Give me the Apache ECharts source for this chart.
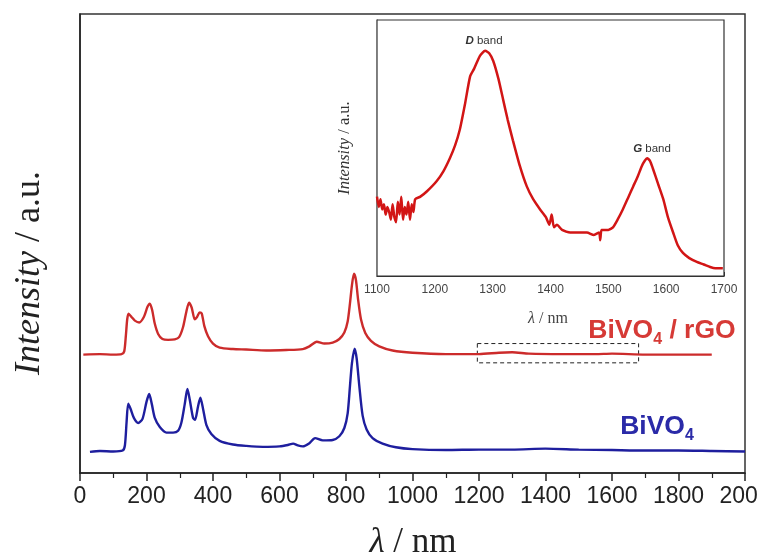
<!DOCTYPE html>
<html><head><meta charset="utf-8">
<script src="https://cdn.jsdelivr.net/npm/echarts@6/dist/echarts.min.js"></script>
<style>html,body{margin:0;padding:0;background:#fff}#c{width:757px;height:555px}</style>
</head><body><div id="c"></div>
<script>
// Main spectrum: BiVO4 / rGO (red, offset) [wavelength, intensity]
const redData = [[10,258],[60,259],[100,258],[125,259],[133,265],[138,300],[142,335],[146,347],[155,340],[165,332],[178,328],[192,340],[203,362],[210,369],[217,355],[225,325],[235,303],[248,292],[265,290],[285,291],[298,296],[310,318],[320,352],[328,371],[336,360],[345,335],[352,340],[360,350],[366,348],[374,320],[385,298],[400,282],[420,273],[460,270],[500,269],[560,267],[620,268],[670,270],[690,276],[712,286],[735,282],[760,284],[780,292],[795,306],[805,330],[812,370],[818,410],[824,434],[830,420],[836,380],[845,335],[858,305],[875,288],[900,276],[940,267],[1000,262],[1100,259],[1200,259],[1260,262],[1300,263],[1350,260],[1450,259],[1550,259],[1600,260],[1700,258],[1800,258],[1900,258]];
// Main spectrum: BiVO4 (blue)
const blueData = [[30,46],[60,48],[100,47],[128,49],[135,60],[140,110],[145,151],[152,140],[162,120],[175,109],[188,118],[200,155],[208,172],[216,150],[225,120],[240,100],[260,88],[280,88],[295,92],[305,110],[315,150],[323,183],[330,160],[340,120],[346,116],[355,145],[362,164],[370,140],[380,105],[395,85],[420,70],[460,62],[500,59],[550,57],[600,58],[625,61],[641,64],[655,60],[670,58],[690,65],[707,76],[730,71],[760,72],[780,80],[795,98],[805,130],[812,190],[818,240],[826,271],[832,250],[840,190],[850,125],[862,95],[880,76],[910,64],[950,56],[1000,52],[1100,50],[1200,51],[1300,51],[1400,53],[1500,51],[1600,50],[1700,49],[1800,49],[1900,48],[2000,47]];
// Inset: rGO D and G bands
const insetData = [[1100,31],[1103,27],[1106,30],[1109,26],[1112,28],[1115,24],[1118,27],[1121,25],[1124,22],[1127,28],[1130,23],[1133,21],[1136,29],[1139,24],[1142,31],[1145,22],[1148,27],[1151,24],[1154,29],[1157,22],[1160,28],[1163,25],[1166,30],[1175,31],[1186,33],[1203,37],[1215,41],[1226,46],[1235,51],[1243,57],[1252,67],[1261,78],[1268,81],[1278,86],[1287,88],[1294,87],[1301,84],[1310,77],[1318,69],[1326,61],[1335,53],[1347,43],[1359,35],[1370,30],[1382,26],[1392,23],[1398,20],[1402,24],[1406,19],[1411,20],[1420,18],[1434,17],[1450,17],[1463,17],[1475,16],[1484,17],[1486,14],[1488,18],[1491,18],[1500,18],[1508,19],[1516,22],[1525,26],[1535,31],[1543,35],[1551,39],[1558,43],[1563,45],[1567,46],[1572,45],[1577,42],[1586,36],[1595,30],[1603,23],[1612,17],[1620,12],[1629,9],[1640,7],[1653,5.5],[1665,4.5],[1676,3.5],[1685,3],[1698,3]];
// Zoom region marked on the main plot
const zoomBox = {x: [1195, 1680], y: [240, 282]};
const mainRange = {xMin: 0, xMax: 2000, xStep: 200, yMin: 0, yMax: 1000};
const insetRange = {xMin: 1100, xMax: 1700, xStep: 100, yMin: 0, yMax: 100};

const RED = '#cc2b2b', BLUE = '#1e1e9e', INSET_RED = '#d21515';
const plain = v => String(v);
const chart = echarts.init(document.getElementById('c'), null, {renderer: 'canvas'});
chart.setOption({
  animation: false,
  backgroundColor: '#fff',
  grid: [
    {left: 80, right: 12, top: 14, bottom: 82, outerBoundsMode: 'none', containLabel: false, show: true, borderColor: '#333', borderWidth: 1.5, backgroundColor: 'transparent'},
    {left: 377, right: 33, top: 20, height: 256, outerBoundsMode: 'none', containLabel: false, show: true, borderColor: '#333', borderWidth: 1.2, backgroundColor: '#fff', z: 5}
  ],
  xAxis: [
    {type: 'value', gridIndex: 0, min: mainRange.xMin, max: mainRange.xMax, interval: mainRange.xStep,
     axisLine: {lineStyle: {color: '#222', width: 1.5}}, splitLine: {show: false},
     axisTick: {inside: false, length: 8, lineStyle: {color: '#222', width: 1.5}},
     minorTick: {show: true, splitNumber: 2, length: 5, lineStyle: {color: '#222', width: 1.2}},
     axisLabel: {fontFamily: 'Liberation Sans', fontSize: 23, color: '#222', margin: 12, showMaxLabel: true, formatter: plain, hideOverlap: false}},
    {type: 'value', gridIndex: 1, min: insetRange.xMin, max: insetRange.xMax, interval: insetRange.xStep,
     axisLine: {lineStyle: {color: '#333', width: 1.2}}, splitLine: {show: false},
     axisTick: {inside: true, length: 4, lineStyle: {color: '#333'}},
     minorTick: {show: true, splitNumber: 2, length: 3, lineStyle: {color: '#333'}},
     axisLabel: {fontFamily: 'Liberation Sans', fontSize: 12, color: '#444', margin: 8, showMinLabel: true, showMaxLabel: true, formatter: plain, hideOverlap: false}}
  ],
  yAxis: [
    {type: 'value', gridIndex: 0, min: mainRange.yMin, max: mainRange.yMax,
     axisLine: {show: true, lineStyle: {color: '#222', width: 1.5}}, axisTick: {show: false},
     axisLabel: {show: false}, splitLine: {show: false}},
    {type: 'value', gridIndex: 1, min: insetRange.yMin, max: insetRange.yMax,
     axisLine: {show: true, lineStyle: {color: '#333', width: 1.2}}, axisTick: {show: false},
     axisLabel: {show: false}, splitLine: {show: false}}
  ],
  series: [
    {type: 'line', xAxisIndex: 0, yAxisIndex: 0, data: redData, showSymbol: false, smooth: 0.25,
     lineStyle: {color: RED, width: 2.4}, z: 2,
     markArea: {silent: true, itemStyle: {color: 'rgba(0,0,0,0)', borderColor: '#222', borderWidth: 1, borderType: [4, 3]},
       data: [[{coord: [zoomBox.x[0], zoomBox.y[1]]}, {coord: [zoomBox.x[1], zoomBox.y[0]]}]]}},
    {type: 'line', xAxisIndex: 0, yAxisIndex: 0, data: blueData, showSymbol: false, smooth: 0.25,
     lineStyle: {color: BLUE, width: 2.4}, z: 2},
    {type: 'line', xAxisIndex: 1, yAxisIndex: 1, data: insetData, showSymbol: false, smooth: 0.2,
     lineStyle: {color: INSET_RED, width: 2.5}, z: 10}
  ],
  graphic: [
    {type: 'text', x: 30, y: 273, rotation: Math.PI / 2,
     style: {text: '{i|Intensity}{n| / a.u.}', align: 'center', verticalAlign: 'middle',
       rich: {i: {fontFamily: 'Liberation Serif', fontSize: 36, fontStyle: 'italic', fill: '#222'},
              n: {fontFamily: 'Liberation Serif', fontSize: 36, fill: '#222'}}}},
    {type: 'text', x: 413, y: 543,
     style: {text: '{i|λ}{n| / nm}', align: 'center', verticalAlign: 'middle',
       rich: {i: {fontFamily: 'Liberation Serif', fontSize: 35, fontStyle: 'italic', fill: '#222'},
              n: {fontFamily: 'Liberation Serif', fontSize: 35, fill: '#222'}}}},
    {type: 'text', x: 662, y: 331, z: 20,
     style: {text: '{a|BiVO}{s|4}{a| / rGO}', align: 'center', verticalAlign: 'middle',
       rich: {a: {fontFamily: 'Liberation Sans', fontSize: 26.5, fontWeight: 'bold', fill: '#d63a36', lineHeight: 28, verticalAlign: 'top'},
              s: {fontFamily: 'Liberation Sans', fontSize: 16, fontWeight: 'bold', fill: '#d63a36', lineHeight: 28, padding: [15, 0, 0, 0], verticalAlign: 'top'}}}},
    {type: 'text', x: 657, y: 427, z: 20,
     style: {text: '{a|BiVO}{s|4}', align: 'center', verticalAlign: 'middle',
       rich: {a: {fontFamily: 'Liberation Sans', fontSize: 26.5, fontWeight: 'bold', fill: '#2a2aa8', lineHeight: 28, verticalAlign: 'top'},
              s: {fontFamily: 'Liberation Sans', fontSize: 16, fontWeight: 'bold', fill: '#2a2aa8', lineHeight: 28, padding: [15, 0, 0, 0], verticalAlign: 'top'}}}},
    {type: 'text', x: 345, y: 148, rotation: Math.PI / 2, z: 20,
     style: {text: '{i|Intensity}{n| / a.u.}', align: 'center', verticalAlign: 'middle',
       rich: {i: {fontFamily: 'Liberation Serif', fontSize: 16.5, fontStyle: 'italic', fill: '#333'},
              n: {fontFamily: 'Liberation Serif', fontSize: 16.5, fill: '#333'}}}},
    {type: 'text', x: 548, y: 319, z: 20,
     style: {text: '{i|λ}{n| / nm}', align: 'center', verticalAlign: 'middle',
       rich: {i: {fontFamily: 'Liberation Serif', fontSize: 16, fontStyle: 'italic', fill: '#444'},
              n: {fontFamily: 'Liberation Serif', fontSize: 16, fill: '#444'}}}},
    {type: 'text', x: 484, y: 41, z: 20,
     style: {text: '{d|D}{n| band}', align: 'center', verticalAlign: 'middle',
       rich: {d: {fontFamily: 'Liberation Sans', fontSize: 11.5, fontStyle: 'italic', fontWeight: 'bold', fill: '#333'},
              n: {fontFamily: 'Liberation Sans', fontSize: 11.5, fill: '#333'}}}},
    {type: 'text', x: 652, y: 149, z: 20,
     style: {text: '{d|G}{n| band}', align: 'center', verticalAlign: 'middle',
       rich: {d: {fontFamily: 'Liberation Sans', fontSize: 11.5, fontStyle: 'italic', fontWeight: 'bold', fill: '#333'},
              n: {fontFamily: 'Liberation Sans', fontSize: 11.5, fill: '#333'}}}}
  ]
});
</script></body></html>
